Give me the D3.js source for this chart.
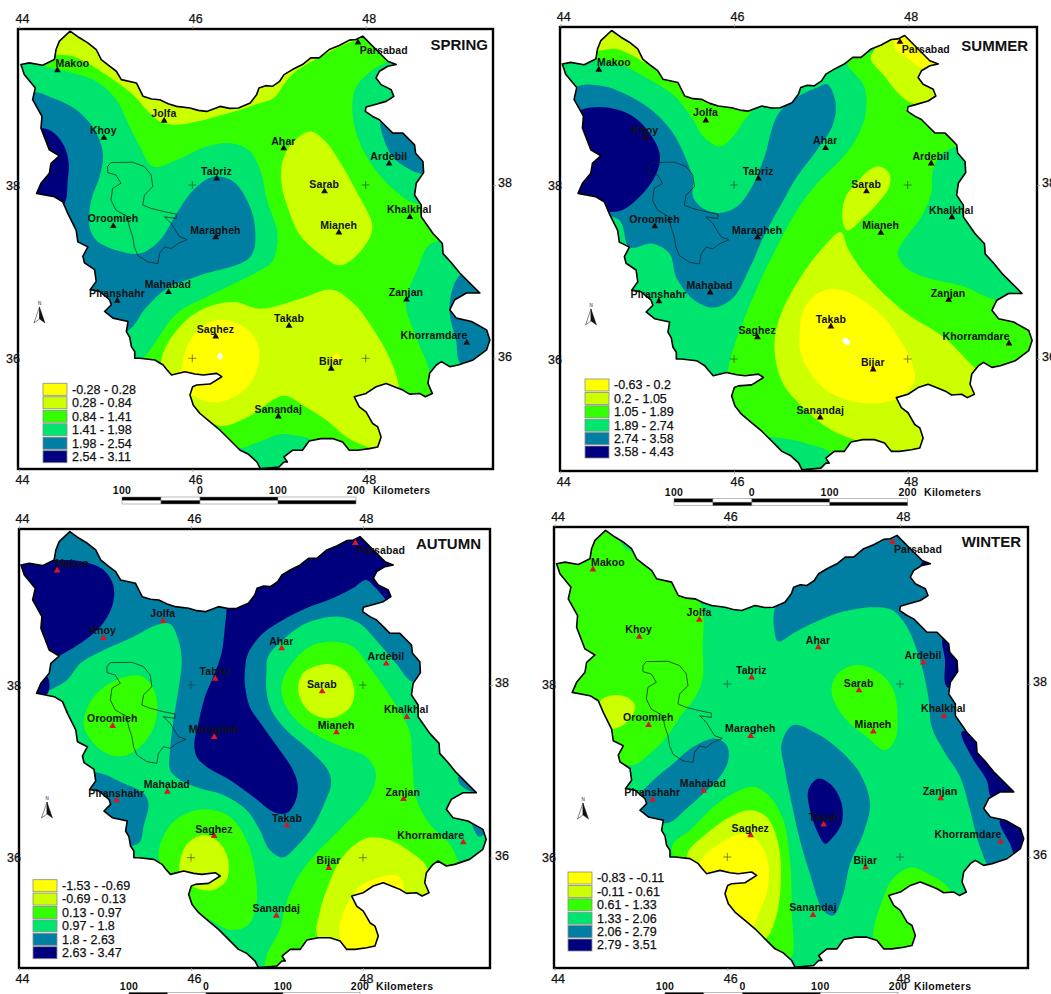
<!DOCTYPE html>
<html>
<head>
<meta charset="utf-8">
<script src="https://cdn.jsdelivr.net/npm/d3@7"></script>
<style>
  html, body { margin: 0; background: #fff; }
  text { font-family: "Liberation Sans", Arial, sans-serif; fill: #111; }
  .station { font-size: 10.5px; font-weight: bold; letter-spacing: 0.1px; }
  .legend-label, .tick text { font-size: 12.5px; stroke: #111; stroke-width: 0.25px; }
  .title { font-size: 15px; font-weight: bold; }
  .km { font-size: 10.5px; font-weight: bold; letter-spacing: 0.3px; }
</style>
</head>
<body>
<svg id="chart" width="1051" height="994"></svg>
<script>
// === DATA ======================================================
// All map shapes are digitised in sheet units (259 units = 1 degree),
// each list relative to its own origin at 46E / 38N.

const classColors = ["#ffff00", "#ccff00", "#33ff00", "#00e56e", "#007fa3", "#00007f"];

const springLegend = ["-0.28 - 0.28", "0.28 - 0.84", "0.84 - 1.41", "1.41 - 1.98", "1.98 - 2.54", "2.54 - 3.11"];
const summerLegend = ["-0.63 - 0.2", "0.2 - 1.05", "1.05 - 1.89", "1.89 - 2.74", "2.74 - 3.58", "3.58 - 4.43"];
const autumnLegend = ["-1.53 - -0.69", "-0.69 - 0.13", "0.13 - 0.97", "0.97 - 1.8", "1.8 - 2.63", "2.63 - 3.47"];
const winterLegend = ["-0.83 - -0.11", "-0.11 - 0.61", "0.61 - 1.33", "1.33 - 2.06", "2.06 - 2.79", "2.79 - 3.51"];

const lonTicks = [44, 46, 48];
const latTicks = [36, 38];
const scaleBarKm = [-100, -50, 0, 100, 200];
const scaleBarLabels = [-100, 0, 100, 200];

const outlineOrigin = [573, 525];
const provinceOutline = [
  [208,65],[236,85],[261,100],[286,120],[301,150],[326,170],[346,185],[361,210],[406,220],[416,240],[426,260],[451,268],[476,270],
  [501,282],[526,290],[566,295],[591,302],[616,305],[656,290],[685,296],[711,295],[746,280],[765,255],[772,235],[792,228],[812,230],
  [834,215],[847,195],[872,180],[902,165],[927,145],[952,145],[982,120],[1012,108],[1042,92],[1062,90],[1082,80],[1102,100],[1122,120],
  [1157,155],[1182,165],[1157,170],[1132,185],[1122,205],[1137,225],[1167,240],[1175,260],[1152,275],[1117,285],[1092,292],[1090,305],
  [1112,320],[1132,330],[1152,350],[1172,370],[1202,370],[1222,390],[1237,405],[1240,430],[1262,455],[1264,488],[1242,520],[1237,555],
  [1257,585],[1257,620],[1292,670],[1320,700],[1322,730],[1345,755],[1372,788],[1432,848],[1392,848],[1357,868],[1342,898],[1362,923],
  [1407,933],[1452,958],[1462,988],[1452,1018],[1412,1048],[1367,1063],[1342,1068],[1317,1053],[1302,1063],[1282,1088],[1277,1118],
  [1290,1148],[1269,1158],[1252,1148],[1222,1150],[1202,1138],[1182,1130],[1152,1118],[1122,1128],[1092,1148],[1057,1158],[1072,1188],
  [1092,1203],[1112,1238],[1127,1248],[1137,1278],[1127,1308],[1102,1313],[1067,1318],[1042,1318],[1022,1293],[992,1283],[957,1283],
  [922,1290],[902,1318],[872,1318],[847,1338],[857,1353],[847,1353],[832,1368],[776,1373],[766,1353],[741,1330],[716,1318],[686,1288],
  [656,1258],[626,1233],[596,1208],[576,1183],[566,1153],[574,1128],[586,1123],[626,1120],[661,1098],[646,1088],[606,1093],[581,1090],
  [551,1083],[511,1093],[496,1076],[486,1063],[461,1048],[416,1043],[401,1043],[401,1023],[391,1008],[386,980],[376,963],[381,933],
  [336,923],[311,903],[331,883],[326,868],[296,843],[268,838],[286,813],[281,778],[251,758],[246,738],[261,710],[231,695],[226,660],
  [201,610],[186,575],[161,560],[108,550],[121,520],[146,490],[151,460],[176,438],[146,420],[121,355],[124,320],[96,270],[104,235],
  [71,195],[61,165],[86,160],[126,167],[161,150],[166,120],[176,95]
];
const lakeOutline = [
  [330,458],[395,457],[430,470],[450,495],[455,530],[430,555],[425,585],[450,595],[490,605],[525,612],[525,625],[490,620],
  [510,640],[535,680],[558,688],[530,700],[510,715],[490,710],[475,730],[470,760],[440,755],[410,735],[400,710],[395,680],
  [385,650],[380,620],[345,600],[330,570],[335,535],[360,520],[345,495],[320,488],[320,470],[330,458]
];

const stationNames = ["Makoo","Jolfa","Khoy","Tabriz","Ahar","Ardebil","Sarab","Khalkhal","Oroomieh","Maragheh","Mianeh",
  "Mahabad","Piranshahr","Zanjan","Takab","Saghez","Khorramdare","Bijar","Sanandaj","Parsabad"];
const stationPoints = [[170,182],[489,333],[309,384],[646,506],[846,415],[1161,461],[968,544],[1223,621],[337,648],[643,681],
  [1011,667],[502,845],[349,871],[1213,867],[862,946],[643,978],[1393,997],[988,1074],[830,1217],[1068,99]];
const stationLabels = [[215,160],[488,310],[307,362],[645,484],[845,393],[1160,439],[967,522],[1221,599],[336,626],[642,659],
  [1010,646],[500,823],[348,849],[1211,846],[862,924],[642,957],[1295,975],[987,1052],[830,1195],[1145,122]];

// zones are painted in order, a class index of -1 is the no-data hole
const springOrigin = [577, 555];
const springZones = [
  [1, [[150,155],[220,170],[280,200],[340,240],[400,285],[440,330],[480,365],[530,375],[590,365],[650,350],[720,330],[780,310],[820,295],[850,255],[880,220],[935,185],[1010,145],[1055,125],[1080,115],[1080,40],[150,40]]],
  [3, [[50,185],[130,200],[200,215],[290,245],[350,300],[385,370],[420,440],[460,500],[530,480],[620,440],[690,430],[745,450],[780,510],[800,600],[830,690],[830,740],[815,785],[780,810],[650,875],[530,940],[470,1020],[430,1075],[380,1110],[100,1100],[0,700],[0,200]]],
  [4, [[100,280],[160,295],[230,330],[285,390],[310,460],[300,530],[275,600],[270,680],[290,720],[350,750],[420,760],[480,720],[530,640],[580,570],[640,530],[700,545],[745,610],[765,690],[750,770],[600,825],[500,865],[440,920],[385,990],[300,1000],[100,800],[60,400]]],
  [5, [[130,385],[165,400],[195,440],[208,490],[205,540],[195,610],[150,640],[90,600],[80,400]]],
  [3, [[1165,185],[1110,215],[1065,265],[1055,330],[1070,410],[1110,490],[1180,570],[1245,610],[1330,600],[1350,300],[1250,160]]],
  [4, [[1140,360],[1150,420],[1175,470],[1220,505],[1270,520],[1330,450],[1300,340],[1180,320]]],
  [1, [[930,395],[975,425],[1020,490],[1070,580],[1115,680],[1090,740],[1020,795],[950,755],[895,700],[865,630],[845,560],[845,490],[875,430]]],
  [3, [[1290,730],[1250,805],[1220,880],[1215,920],[1250,1020],[1285,1110],[1300,1200],[1500,1200],[1500,800],[1400,730]]],
  [4, [[1380,820],[1345,920],[1365,1020],[1380,1090],[1500,1100],[1500,800]]],
  [1, [[700,905],[600,930],[530,990],[485,1075],[500,1150],[570,1220],[660,1275],[740,1250],[850,1185],[910,1215],[980,1260],[1040,1310],[1110,1340],[1180,1340],[1195,1165],[1170,1080],[1120,990],[1060,910],[995,868],[900,895],[780,925]]],
  [0, [[660,958],[740,985],[775,1040],[770,1110],[730,1170],[650,1205],[590,1190],[530,1150],[545,1100],[560,1040],[600,985]]],
  [0, [[1008,1058],[1022,1072],[1008,1086],[994,1072]]],
  [-1, [[660,1056],[668,1067],[660,1078],[652,1067]]],
  [3, [[660,1290],[715,1340],[770,1325],[840,1300],[880,1303],[935,1320],[960,1450],[700,1450]]]
];

const summerOrigin = [612, 495];
const summerZones = [
  [2, [[100,130],[200,125],[270,135],[340,170],[400,205],[440,235],[490,300],[520,350],[570,380],[610,350],[640,305],[665,270],[665,100],[200,20],[100,100]]],
  [1, [[150,95],[210,95],[260,90],[320,115],[345,130],[345,20],[150,20]]],
  [4, [[140,205],[220,200],[290,225],[370,275],[430,340],[470,420],[490,480],[490,530],[520,565],[570,578],[620,560],[660,510],[700,420],[740,290],[790,240],[860,205],[890,195],[915,250],[905,320],[860,390],[800,470],[760,540],[700,650],[660,740],[610,830],[550,860],[490,835],[440,770],[420,700],[370,670],[300,680],[270,600],[150,560],[130,300]]],
  [5, [[160,270],[240,265],[310,290],[360,340],[390,400],[385,450],[340,520],[260,575],[120,530],[120,300]]],
  [2, [[950,130],[1000,200],[1005,280],[975,360],[930,420],[860,490],[800,570],[745,670],[700,760],[640,900],[595,1040],[560,1400],[1550,1400],[1550,700],[1240,200],[1020,100]]],
  [3, [[700,1250],[760,1250],[830,1265],[900,1295],[900,1400],[780,1400]]],
  [3, [[1290,375],[1235,400],[1205,450],[1200,520],[1170,590],[1115,665],[1100,700],[1130,745],[1200,775],[1290,795],[1400,838],[1500,830],[1500,600],[1350,360]]],
  [1, [[1020,115],[1060,170],[1100,220],[1140,250],[1230,260],[1260,100],[1100,40]]],
  [0, [[1090,75],[1095,95],[1120,110],[1170,145],[1240,140],[1150,50],[1085,50]]],
  [1, [[1045,440],[1075,460],[1075,500],[1040,550],[1000,590],[950,630],[935,590],[945,530],[985,480],[1015,450]]],
  [1, [[930,635],[950,680],[980,730],[1050,810],[1130,880],[1240,950],[1330,1040],[1400,1100],[1300,1180],[1190,1290],[1120,1295],[1060,1275],[960,1250],[880,1210],[810,1150],[760,1090],[735,1010],[735,940],[760,860],[810,770],[870,690]]],
  [0, [[895,805],[940,810],[1000,840],[1060,890],[1110,960],[1145,1030],[1150,1080],[1110,1125],[1040,1145],[950,1135],[880,1100],[830,1040],[808,980],[808,930],[815,880],[845,830]]],
  [-1, [[940,950],[958,960],[952,972],[936,962]]]
];

const autumnOrigin = [573, 525];
const autumnZones = [
  [4, [[100,570],[140,545],[200,510],[240,460],[300,425],[400,380],[470,345],[510,342],[535,390],[545,450],[535,540],[520,630],[510,720],[510,780],[540,810],[600,835],[670,855],[740,900],[780,960],[810,1020],[850,1042],[890,1010],[940,950],[975,880],[995,820],[985,780],[930,720],[860,660],[815,600],[800,540],[800,490],[805,440],[850,390],[920,340],[1020,320],[1080,340],[1130,390],[1190,460],[1240,515],[1320,500],[1300,50],[100,20],[30,100],[20,560]]],
  [5, [[70,160],[170,150],[250,155],[310,180],[340,230],[335,290],[300,350],[240,400],[190,430],[150,450],[40,400],[30,160]]],
  [5, [[140,500],[142,550],[100,560],[100,520]]],
  [5, [[680,300],[675,350],[665,430],[640,500],[615,560],[595,640],[583,700],[590,740],[620,770],[690,810],[760,860],[820,905],[860,910],[885,880],[895,830],[880,780],[840,720],[790,650],[750,590],[735,520],[735,490],[745,430],[790,370],[850,330],[920,295],[1000,265],[1060,235],[1100,210],[1130,235],[1175,275],[1260,200],[1120,30],[850,130],[680,230]]],
  [4, [[270,790],[300,790],[370,820],[430,850],[445,880],[430,950],[415,1000],[300,1000],[250,850]]],
  [4, [[1378,800],[1385,825],[1440,850],[1440,790]]],
  [4, [[1420,935],[1440,980],[1465,960],[1440,925]]],
  [2, [[420,497],[450,520],[470,570],[465,640],[430,700],[380,735],[330,735],[280,700],[250,645],[262,590],[300,540],[360,505]]],
  [2, [[1000,395],[1060,410],[1110,470],[1180,570],[1230,660],[1240,760],[1250,860],[1290,940],[1350,1000],[1378,1055],[1400,1150],[1100,1450],[800,1400],[800,1340],[840,1260],[860,1180],[890,1110],[950,1030],[1030,950],[1110,860],[1130,790],[1100,740],[1040,715],[960,680],[900,640],[860,590],[845,530],[870,470],[930,410]]],
  [1, [[1100,985],[1170,990],[1240,1030],[1285,1075],[1290,1200],[1100,1340],[955,1280],[960,1210],[985,1130],[1030,1040]]],
  [0, [[1055,1165],[1030,1210],[1020,1270],[1040,1320],[1200,1320],[1200,1100],[1120,1110],[1080,1130]]],
  [1, [[985,462],[1040,485],[1065,540],[1050,595],[990,625],[930,605],[897,550],[910,490]]],
  [2, [[620,898],[690,920],[740,990],[765,1080],[770,1180],[745,1245],[695,1260],[640,1235],[560,1180],[500,1100],[475,1040],[485,990],[520,935],[565,908]]],
  [1, [[615,975],[660,1000],[685,1050],[680,1110],[640,1140],[580,1130],[540,1090],[550,1020],[575,990]]]
];

const winterOrigin = [592, 522];
const winterZones = [
  [2, [[40,100],[220,40],[300,110],[500,260],[520,320],[518,400],[517,510],[490,570],[450,620],[410,680],[360,730],[305,765],[200,720],[100,560],[40,300]]],
  [3, [[272,95],[310,95],[310,128],[290,118]]],
  [1, [[220,565],[280,557],[315,585],[305,620],[270,650],[230,655],[200,600]]],
  [4, [[555,685],[590,705],[595,750],[570,800],[520,850],[470,895],[415,938],[350,920],[330,860],[370,810],[430,760],[490,710]]],
  [4, [[735,295],[733,360],[745,395],[790,370],[860,335],[940,305],[1030,292],[1085,300],[1130,350],[1170,450],[1195,560],[1205,650],[1240,720],[1290,800],[1320,900],[1350,1010],[1385,1075],[1450,1030],[1550,1050],[1550,900],[1450,850],[1350,300],[1200,80],[1000,50],[800,200]]],
  [5, [[1238,385],[1245,450],[1250,530],[1300,530],[1320,430],[1260,370]]],
  [5, [[1295,665],[1325,740],[1370,810],[1385,860],[1470,850],[1400,700]]],
  [5, [[1410,930],[1440,1000],[1460,1040],[1520,1040],[1500,930]]],
  [5, [[1172,165],[1190,150],[1210,165],[1190,180]]],
  [4, [[790,645],[860,670],[930,720],[990,790],[1020,880],[1000,970],[960,1060],[940,1150],[910,1215],[880,1200],[840,1090],[810,990],[785,880],[765,780],[755,700]]],
  [5, [[865,805],[905,825],[935,880],[935,940],[905,985],[885,1000],[860,960],[840,900],[835,840]]],
  [2, [[985,465],[1050,490],[1090,540],[1103,620],[1095,690],[1065,720],[1010,680],[950,630],[915,580],[905,530],[930,485]]],
  [2, [[670,830],[720,860],[760,930],[780,1050],[785,1200],[782,1340],[700,1300],[600,1180],[430,1040],[430,1000],[480,960],[550,890],[610,850]]],
  [1, [[660,900],[710,920],[745,1000],[752,1130],[735,1230],[705,1285],[640,1260],[560,1200],[470,1040],[530,970],[600,920]]],
  [0, [[640,970],[690,1000],[715,1060],[712,1140],[690,1200],[665,1250],[620,1220],[560,1160],[500,1090],[520,1040],[570,1000]]],
  [2, [[1140,1072],[1195,1090],[1265,1150],[1200,1400],[1040,1320],[1030,1270],[1050,1190],[1085,1110]]]
];

// === LAYOUT ====================================================

const panels = [
  { title: "SPRING", baseClass: 2, zones: springZones, origin: springOrigin, legend: springLegend, marker: "#111",
    frame: [18, 29, 493, 469], lon: [192.3, 365.7], lat: [185, 358.3],
    legendBox: [43, 389.3, 456.7], titleAt: [488, 45], arrow: [39.5, 316], bar: [122, 356, 497], barText: 490, kmAt: 373 },
  { title: "SUMMER", baseClass: 3, zones: summerZones, origin: summerOrigin, legend: summerLegend, marker: "#2a0505",
    frame: [560, 27, 1037, 471], lon: [734, 907.7], lat: [185, 359],
    legendBox: [585, 385, 452], titleAt: [1028, 46], arrow: [591, 318], bar: [674, 907.7, 498.7], barText: 492, kmAt: 924 },
  { title: "AUTUMN", baseClass: 3, zones: autumnZones, origin: autumnOrigin, legend: autumnLegend, marker: "#d9181e",
    frame: [19, 529, 490, 968], lon: [191, 363], lat: [685, 857.7],
    legendBox: [33, 885.7, 952.7], titleAt: [481, 544], arrow: [47, 811], bar: [129, 360, 992.3], barText: 986, kmAt: 376 },
  { title: "WINTER", baseClass: 3, zones: winterZones, origin: winterOrigin, legend: winterLegend, marker: "#d9181e",
    frame: [554, 527, 1028, 968], lon: [727.3, 900], lat: [684, 857],
    legendBox: [568, 878, 945], titleAt: [1021, 542], arrow: [583, 812], bar: [665, 898, 992.3], barText: 986, kmAt: 914 }
];

const UNITS_PER_DEGREE = 259;
const svg = d3.select("#chart");
const degree = d3.format("d");

// === DRAW ======================================================

function drawPanel(p, i) {
  const x = d3.scaleLinear().domain([46, 48]).range(p.lon);
  const y = d3.scaleLinear().domain([38, 36]).range(p.lat);
  const project = origin => d => [
    x(46 + (d[0] - origin[0]) / UNITS_PER_DEGREE),
    y(38 - (d[1] - origin[1]) / UNITS_PER_DEGREE)
  ];
  const fromOutline = project(outlineOrigin);
  const [left, top, right, bottom] = p.frame;
  const g = svg.append("g");

  const border = d3.line().curve(d3.curveLinearClosed)(provinceOutline.map(fromOutline));
  g.append("clipPath").attr("id", "clip" + i).append("path").attr("d", border);

  // colour zones
  const zoneLine = d3.line().curve(d3.curveCatmullRomClosed.alpha(0.5));
  const map = g.append("g").attr("clip-path", `url(#clip${i})`);
  map.append("path").attr("d", border).attr("fill", classColors[p.baseClass]);
  map.selectAll("path.zone")
    .data(p.zones)
    .enter()
    .append("path")
    .attr("class", "zone")
    .attr("fill", d => d[0] < 0 ? "#fff" : classColors[d[0]])
    .attr("d", d => zoneLine(d[1].map(project(p.origin))));

  g.append("path").attr("d", border).attr("fill", "none")
    .attr("stroke", "#000").attr("stroke-width", 1.6).attr("stroke-linejoin", "round");
  g.append("path").attr("d", d3.line()(lakeOutline.map(fromOutline))).attr("fill", "none")
    .attr("stroke", "#1a1a1a").attr("stroke-width", 0.7);

  // graticule crosses
  const crosses = d3.cross([46, 48], [36, 38]);
  g.selectAll("path.cross")
    .data(crosses)
    .enter()
    .append("path")
    .attr("class", "cross")
    .attr("d", d => `M${x(d[0]) - 4},${y(d[1])}h8M${x(d[0])},${y(d[1]) - 4}v8`)
    .attr("stroke", "#333").attr("stroke-width", 0.6);

  // frame and axes
  g.append("rect")
    .attr("x", left).attr("y", top).attr("width", right - left).attr("height", bottom - top)
    .attr("fill", "none").attr("stroke", "#000").attr("stroke-width", 2.4);

  const styleAxis = a => {
    a.select(".domain").remove();
    a.selectAll(".tick line").attr("stroke", "#999").attr("stroke-width", 0.7);
  };
  g.append("g").attr("transform", `translate(0,${top})`)
    .call(d3.axisTop(x).tickValues(lonTicks).tickFormat(degree).tickSize(3).tickPadding(3)).call(styleAxis)
    .selectAll("text").attr("dx", 3);
  g.append("g").attr("transform", `translate(0,${bottom})`)
    .call(d3.axisBottom(x).tickValues(lonTicks).tickFormat(degree).tickSize(3).tickPadding(3)).call(styleAxis)
    .selectAll("text").attr("dx", 3);
  g.append("g").attr("transform", `translate(${left},0)`)
    .call(d3.axisLeft(y).tickValues(latTicks).tickFormat(degree).tickSize(3).tickPadding(-5)).call(styleAxis);
  g.append("g").attr("transform", `translate(${right},0)`)
    .call(d3.axisRight(y).tickValues(latTicks).tickFormat(degree).tickSize(3).tickPadding(2)).call(styleAxis)
    .selectAll("text").attr("dy", "0.15em");
  g.selectAll(".tick text").attr("font-family", null).attr("font-size", null);

  // stations
  const tri = d3.symbol(d3.symbolTriangle).size(20);
  g.selectAll("path.site")
    .data(stationPoints)
    .enter()
    .append("path")
    .attr("class", "site")
    .attr("d", tri)
    .attr("fill", p.marker)
    .attr("transform", d => `translate(${fromOutline(d)})`);
  g.selectAll("text.station")
    .data(stationNames)
    .enter()
    .append("text")
    .attr("class", "station")
    .attr("text-anchor", "middle")
    .attr("dy", "0.35em")
    .attr("x", (d, k) => fromOutline(stationLabels[k])[0])
    .attr("y", (d, k) => fromOutline(stationLabels[k])[1])
    .text(d => d);

  // title
  g.append("text").attr("class", "title").attr("text-anchor", "end").attr("dy", "0.35em")
    .attr("x", p.titleAt[0]).attr("y", p.titleAt[1]).text(p.title);

  // legend
  const rowY = d3.scaleLinear().domain([0, p.legend.length - 1]).range([p.legendBox[1], p.legendBox[2]]);
  const rows = g.selectAll("g.row")
    .data(p.legend)
    .enter()
    .append("g")
    .attr("class", "row")
    .attr("transform", (d, k) => `translate(${p.legendBox[0]},${rowY(k)})`);
  rows.append("rect")
    .attr("y", -6).attr("width", 24).attr("height", 12)
    .attr("fill", (d, k) => classColors[k])
    .attr("stroke", "#8a8a8a").attr("stroke-width", 0.8);
  rows.append("text")
    .attr("class", "legend-label")
    .attr("x", 29).attr("dy", "0.35em")
    .text(d => d);

  // north arrow
  const arrow = g.append("g").attr("transform", `translate(${p.arrow})`);
  arrow.append("path").attr("d", "M0,-9L-5.5,7L0,3Z").attr("fill", "#fff").attr("stroke", "#333").attr("stroke-width", 0.6);
  arrow.append("path").attr("d", "M0,-9L5.5,7L0,3Z").attr("fill", "#111").attr("stroke", "#111").attr("stroke-width", 0.4);
  arrow.append("text").attr("text-anchor", "middle").attr("y", -11).attr("font-size", 4.5).text("N");

  // scale bar
  const km = d3.scaleLinear().domain([-100, 200]).range([p.bar[0], p.bar[1]]);
  const segs = d3.pairs(scaleBarKm);
  const bar = g.append("g");
  bar.selectAll("rect.upper")
    .data(segs)
    .enter()
    .append("rect")
    .attr("class", "upper")
    .attr("x", d => km(d[0])).attr("width", d => km(d[1]) - km(d[0]))
    .attr("y", p.bar[2]).attr("height", 3.5)
    .attr("fill", (d, k) => k % 2 ? "#fff" : "#000")
    .attr("stroke", "#777").attr("stroke-width", 0.5);
  bar.selectAll("rect.lower")
    .data(segs)
    .enter()
    .append("rect")
    .attr("class", "lower")
    .attr("x", d => km(d[0])).attr("width", d => km(d[1]) - km(d[0]))
    .attr("y", p.bar[2] + 3.5).attr("height", 3.5)
    .attr("fill", (d, k) => k % 2 ? "#000" : "#fff")
    .attr("stroke", "#777").attr("stroke-width", 0.5);
  bar.selectAll("text.km")
    .data(scaleBarLabels)
    .enter()
    .append("text")
    .attr("class", "km")
    .attr("text-anchor", "middle")
    .attr("dy", "0.35em")
    .attr("x", d => km(d)).attr("y", p.barText)
    .text(d => Math.abs(d));
  bar.append("text").attr("class", "km").attr("dy", "0.35em")
    .attr("x", p.kmAt).attr("y", p.barText).text("Kilometers");
}

panels.forEach(drawPanel);
</script>
</body>
</html>
